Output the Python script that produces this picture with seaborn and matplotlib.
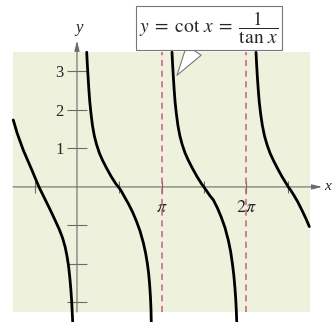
import matplotlib

matplotlib.use("Agg")
import matplotlib.pyplot as plt
import seaborn as sns
from pandas import DataFrame

# Branches of y = cot x (x in multiples of pi)
BRANCH_A_X: list[float] = [-0.754, -0.707, -0.636, -0.536, -0.45, -0.32, -0.26, -0.21,
                           -0.17, -0.14, -0.118, -0.1, -0.085, -0.073, -0.062, -0.051]
BRANCH_A_Y: list[float] = [1.74, 1.39, 0.96, 0.45, 0.0, -0.58, -0.86, -1.1,
                           -1.33, -1.56, -1.8, -2.05, -2.35, -2.65, -3.0, -3.5]
BRANCH_B_X: list[float] = [0.115, 0.122, 0.130, 0.140, 0.152, 0.166, 0.183, 0.205, 0.232,
                           0.265, 0.305, 0.352, 0.405, 0.46, 0.49, 0.52, 0.56, 0.607,
                           0.655, 0.70, 0.745, 0.785, 0.812, 0.832, 0.848, 0.86, 0.869,
                           0.875, 0.879]
BRANCH_B_Y: list[float] = [3.5, 3.2, 2.9, 2.55, 2.2, 1.9, 1.6, 1.33, 1.1,
                           0.88, 0.68, 0.48, 0.27, 0.08, 0.0, -0.09, -0.25, -0.43,
                           -0.64, -0.87, -1.14, -1.45, -1.72, -1.98, -2.25, -2.55, -2.85,
                           -3.15, -3.5]
BRANCH_C_X: list[float] = [1.124, 1.131, 1.139, 1.149, 1.161, 1.176, 1.194, 1.217, 1.245,
                           1.279, 1.32, 1.367, 1.42, 1.474, 1.5, 1.53, 1.57, 1.614,
                           1.662, 1.706, 1.75, 1.79, 1.818, 1.838, 1.855, 1.868, 1.878,
                           1.885, 1.89]
BRANCH_C_Y: list[float] = [3.5, 3.2, 2.9, 2.55, 2.2, 1.9, 1.6, 1.33, 1.1,
                           0.88, 0.68, 0.48, 0.27, 0.08, 0.0, -0.09, -0.22, -0.34,
                           -0.55, -0.78, -1.05, -1.38, -1.68, -1.98, -2.28, -2.6, -2.9,
                           -3.2, -3.5]
BRANCH_D_X: list[float] = [2.118, 2.125, 2.133, 2.144, 2.157, 2.173, 2.193, 2.218, 2.248,
                           2.284, 2.326, 2.373, 2.425, 2.478, 2.5, 2.53, 2.57, 2.615,
                           2.665, 2.71, 2.749]
BRANCH_D_Y: list[float] = [3.5, 3.2, 2.9, 2.55, 2.2, 1.9, 1.6, 1.33, 1.1,
                           0.88, 0.68, 0.48, 0.27, 0.08, 0.0, -0.09, -0.23, -0.4,
                           -0.62, -0.83, -1.03]

ASYMPTOTES: list[float] = [1, 2]
X_TICKS: list[float] = [-0.5, 0.5, 1, 1.5, 2, 2.5]
X_TICK_LABELS: list[str] = ["", "", r"$\pi$", "", r"$2\pi$", ""]
Y_TICKS: list[int] = [-3, -2, -1, 1, 2, 3]
Y_TICK_LABELS: list[str] = ["", "", "", "1", "2", "3"]

PANEL = "#EEF1DC"
AXIS_GRAY = "#6b6b6b"


def build_frame() -> DataFrame:
    rows: list[dict] = []
    branches = {
        "A": (BRANCH_A_X, BRANCH_A_Y),
        "B": (BRANCH_B_X, BRANCH_B_Y),
        "C": (BRANCH_C_X, BRANCH_C_Y),
        "D": (BRANCH_D_X, BRANCH_D_Y),
    }
    for name, (xs, ys) in branches.items():
        for order, (x, y) in enumerate(zip(xs, ys)):
            rows.append({"branch": name, "order": order, "x": x, "y": y})
    return DataFrame(rows)


def plot() -> None:
    sns.set_style("white")
    plt.rcParams["mathtext.fontset"] = "stix"
    plt.rcParams["font.family"] = ["Liberation Serif", "DejaVu Serif"]

    fig = plt.figure(figsize=(3.32, 3.22), dpi=100)
    ax = fig.add_axes([13 / 332, 10 / 322, 297 / 332, 260 / 322])
    ax.set_facecolor(PANEL)
    ax.set_xlim(-0.757, 2.757)
    ax.set_ylim(-3.25, 3.506)

    # dashed asymptotes
    for a in ASYMPTOTES:
        ax.axvline(a, color="#cc5a88", lw=1.1, ls=(0, (4, 3)), zorder=1)

    # axes with arrows
    arrow = dict(arrowstyle="-|>,head_length=0.6,head_width=0.15",
                 color=AXIS_GRAY, lw=0.8, shrinkA=0, shrinkB=0)
    ax.annotate("", xy=(2.90, 0), xytext=(-0.757, 0), annotation_clip=False,
                arrowprops=arrow, zorder=2)
    ax.annotate("", xy=(0, 3.8), xytext=(0, -3.25), annotation_clip=False,
                arrowprops=arrow, zorder=2)
    ax.text(2.925, 0.0, "x", style="italic", fontsize=11, ha="left", va="center",
            clip_on=False)
    ax.text(0.02, 4.12, "y", style="italic", fontsize=12, ha="center", va="center",
            clip_on=False)

    for side in ["top", "right"]:
        ax.spines[side].set_visible(False)
    ax.spines["left"].set_position(("data", 0))
    ax.spines["bottom"].set_position(("data", 0))
    ax.spines["left"].set_color("none")
    ax.spines["bottom"].set_color("none")

    ax.set_xticks(X_TICKS)
    ax.set_xticklabels(X_TICK_LABELS)
    ax.set_yticks(Y_TICKS)
    ax.set_yticklabels(Y_TICK_LABELS)
    ax.tick_params(axis="x", bottom=True, direction="inout", length=8, width=0.8,
                   color=AXIS_GRAY, labelsize=13, pad=5)
    ax.tick_params(axis="y", left=True, direction="inout", length=15, width=0.8,
                   color=AXIS_GRAY, labelsize=12, pad=2)
    for lab in ax.get_xticklabels():
        lab.set_bbox(dict(facecolor=PANEL, edgecolor="none", pad=0.5))

    data = build_frame()
    sns.lineplot(data=data, x="x", y="y", units="branch", estimator=None, sort=False,
                 color="black", lw=2.0, ax=ax, zorder=3)
    for line in ax.get_lines():
        line.set_clip_on(False)
        line.set_solid_joinstyle("round")
    ax.set_xlabel("")
    ax.set_ylabel("")

    # callout label
    ax.annotate(r"$y\;=\;\cot\,x\;=\;\dfrac{1}{\tan\,x}$", xy=(1.183, 2.9),
                xytext=(1.562, 4.13), fontsize=14, ha="center", va="center",
                annotation_clip=False,
                bbox=dict(boxstyle="square,pad=0.2", fc="white", ec="#777777", lw=0.8),
                arrowprops=dict(arrowstyle="wedge,tail_width=0.9", fc="white",
                                ec="#777777", lw=0.8, shrinkA=0, shrinkB=0),
                zorder=5)

    fig.savefig("out.png", dpi=100, facecolor="white")


plot()
